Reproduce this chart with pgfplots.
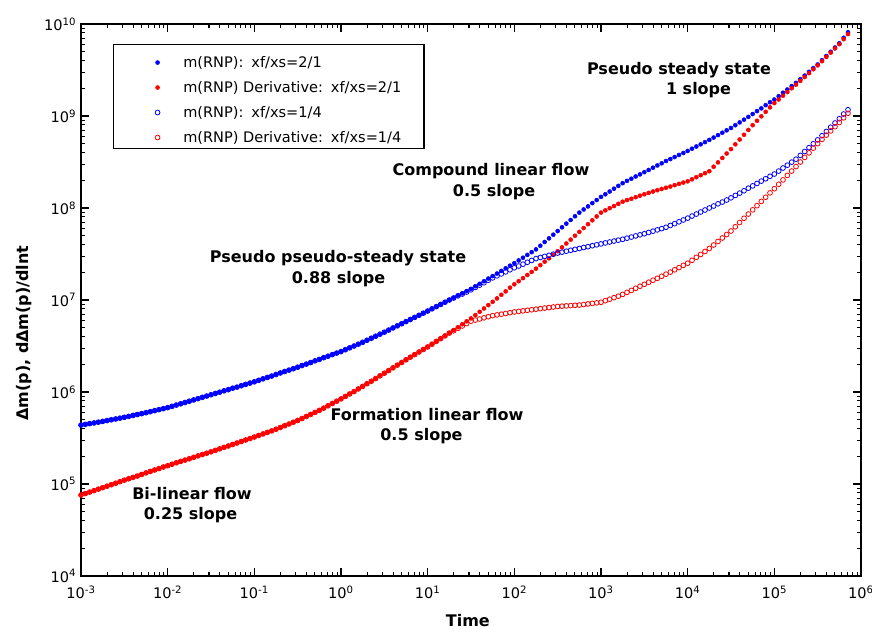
\documentclass[border=0pt]{standalone}
\usepackage{fontspec}
\setmainfont{DejaVu Sans}
\usepackage{pgfplots}
\usepackage{pgfplotstable}
\pgfplotsset{compat=1.18}

% t: time; A: m(RNP) xf/xs=2/1; B: derivative xf/xs=2/1;
% C: m(RNP) xf/xs=1/4; D: derivative xf/xs=1/4
\pgfplotstableread{
t A B C D
1.000e-3 4.37e5 7.59e4 4.37e5 7.59e4
1.122e-3 4.45e5 7.87e4 4.45e5 7.87e4
1.259e-3 4.53e5 8.17e4 4.53e5 8.17e4
1.413e-3 4.61e5 8.47e4 4.61e5 8.47e4
1.585e-3 4.70e5 8.79e4 4.70e5 8.79e4
1.778e-3 4.79e5 9.12e4 4.79e5 9.12e4
1.995e-3 4.89e5 9.46e4 4.89e5 9.46e4
2.239e-3 4.99e5 9.82e4 4.99e5 9.82e4
2.512e-3 5.09e5 1.02e5 5.09e5 1.02e5
2.818e-3 5.20e5 1.06e5 5.20e5 1.06e5
3.162e-3 5.31e5 1.10e5 5.31e5 1.10e5
3.548e-3 5.43e5 1.14e5 5.43e5 1.14e5
3.981e-3 5.56e5 1.18e5 5.56e5 1.18e5
4.467e-3 5.69e5 1.22e5 5.69e5 1.22e5
5.012e-3 5.82e5 1.27e5 5.82e5 1.27e5
5.623e-3 5.96e5 1.32e5 5.96e5 1.32e5
6.310e-3 6.11e5 1.37e5 6.11e5 1.37e5
7.079e-3 6.27e5 1.42e5 6.27e5 1.42e5
7.943e-3 6.43e5 1.47e5 6.43e5 1.47e5
8.913e-3 6.59e5 1.53e5 6.59e5 1.53e5
1.000e-2 6.76e5 1.58e5 6.76e5 1.58e5
1.122e-2 6.98e5 1.64e5 6.98e5 1.64e5
1.259e-2 7.21e5 1.70e5 7.21e5 1.70e5
1.413e-2 7.45e5 1.76e5 7.45e5 1.76e5
1.585e-2 7.69e5 1.82e5 7.69e5 1.82e5
1.778e-2 7.94e5 1.88e5 7.94e5 1.88e5
1.995e-2 8.20e5 1.95e5 8.20e5 1.95e5
2.239e-2 8.47e5 2.02e5 8.47e5 2.02e5
2.512e-2 8.75e5 2.09e5 8.75e5 2.09e5
2.818e-2 9.04e5 2.16e5 9.04e5 2.16e5
3.162e-2 9.33e5 2.24e5 9.33e5 2.24e5
3.548e-2 9.64e5 2.32e5 9.64e5 2.32e5
3.981e-2 9.95e5 2.41e5 9.95e5 2.41e5
4.467e-2 1.03e6 2.50e5 1.03e6 2.50e5
5.012e-2 1.06e6 2.59e5 1.06e6 2.59e5
5.623e-2 1.10e6 2.69e5 1.10e6 2.69e5
6.310e-2 1.13e6 2.79e5 1.13e6 2.79e5
7.079e-2 1.17e6 2.90e5 1.17e6 2.90e5
7.943e-2 1.21e6 3.01e5 1.21e6 3.01e5
8.913e-2 1.25e6 3.12e5 1.25e6 3.12e5
1.000e-1 1.29e6 3.24e5 1.29e6 3.24e5
1.122e-1 1.34e6 3.37e5 1.34e6 3.37e5
1.259e-1 1.39e6 3.50e5 1.39e6 3.50e5
1.413e-1 1.44e6 3.64e5 1.44e6 3.64e5
1.585e-1 1.49e6 3.78e5 1.49e6 3.78e5
1.778e-1 1.55e6 3.94e5 1.55e6 3.94e5
1.995e-1 1.61e6 4.11e5 1.61e6 4.11e5
2.239e-1 1.67e6 4.30e5 1.67e6 4.30e5
2.512e-1 1.73e6 4.49e5 1.73e6 4.49e5
2.818e-1 1.79e6 4.69e5 1.79e6 4.69e5
3.162e-1 1.86e6 4.90e5 1.86e6 4.90e5
3.548e-1 1.94e6 5.15e5 1.94e6 5.15e5
3.981e-1 2.01e6 5.42e5 2.01e6 5.42e5
4.467e-1 2.09e6 5.70e5 2.09e6 5.70e5
5.012e-1 2.18e6 6.00e5 2.18e6 6.00e5
5.623e-1 2.26e6 6.31e5 2.26e6 6.31e5
6.310e-1 2.36e6 6.68e5 2.36e6 6.68e5
7.079e-1 2.45e6 7.08e5 2.45e6 7.08e5
7.943e-1 2.55e6 7.50e5 2.55e6 7.50e5
8.913e-1 2.65e6 7.94e5 2.65e6 7.94e5
1.000e0 2.75e6 8.41e5 2.75e6 8.41e5
1.122e0 2.88e6 8.95e5 2.88e6 8.95e5
1.259e0 3.02e6 9.53e5 3.02e6 9.53e5
1.413e0 3.16e6 1.01e6 3.16e6 1.01e6
1.585e0 3.31e6 1.08e6 3.31e6 1.08e6
1.778e0 3.47e6 1.15e6 3.47e6 1.15e6
1.995e0 3.65e6 1.23e6 3.65e6 1.23e6
2.239e0 3.84e6 1.31e6 3.84e6 1.31e6
2.512e0 4.04e6 1.40e6 4.04e6 1.40e6
2.818e0 4.25e6 1.50e6 4.25e6 1.50e6
3.162e0 4.47e6 1.60e6 4.47e6 1.60e6
3.548e0 4.71e6 1.71e6 4.71e6 1.71e6
3.981e0 4.97e6 1.83e6 4.97e6 1.83e6
4.467e0 5.24e6 1.96e6 5.24e6 1.96e6
5.012e0 5.52e6 2.09e6 5.52e6 2.09e6
5.623e0 5.82e6 2.24e6 5.82e6 2.24e6
6.310e0 6.14e6 2.39e6 6.14e6 2.39e6
7.079e0 6.47e6 2.55e6 6.47e6 2.55e6
7.943e0 6.82e6 2.72e6 6.82e6 2.72e6
8.913e0 7.19e6 2.90e6 7.19e6 2.90e6
1.000e1 7.59e6 3.09e6 7.59e6 3.09e6
1.122e1 8.02e6 3.31e6 8.02e6 3.31e6
1.259e1 8.47e6 3.55e6 8.47e6 3.55e6
1.413e1 8.95e6 3.80e6 8.95e6 3.80e6
1.585e1 9.46e6 4.07e6 9.46e6 4.07e6
1.778e1 1.00e7 4.37e6 1.00e7 4.37e6
1.995e1 1.06e7 4.70e6 1.05e7 4.63e6
2.239e1 1.12e7 5.06e6 1.11e7 4.92e6
2.512e1 1.18e7 5.45e6 1.16e7 5.22e6
2.818e1 1.25e7 5.86e6 1.22e7 5.55e6
3.162e1 1.32e7 6.31e6 1.29e7 5.89e6
3.548e1 1.41e7 6.85e6 1.37e7 6.05e6
3.981e1 1.50e7 7.45e6 1.45e7 6.22e6
4.467e1 1.60e7 8.09e6 1.54e7 6.40e6
5.012e1 1.71e7 8.79e6 1.64e7 6.58e6
5.623e1 1.82e7 9.55e6 1.74e7 6.76e6
6.310e1 1.94e7 1.04e7 1.83e7 6.89e6
7.079e1 2.07e7 1.14e7 1.92e7 7.01e6
7.943e1 2.21e7 1.24e7 2.02e7 7.14e6
8.913e1 2.36e7 1.36e7 2.13e7 7.28e6
1.000e2 2.51e7 1.48e7 2.24e7 7.41e6
1.122e2 2.69e7 1.60e7 2.34e7 7.52e6
1.259e2 2.88e7 1.73e7 2.45e7 7.62e6
1.413e2 3.09e7 1.87e7 2.57e7 7.73e6
1.585e2 3.31e7 2.02e7 2.69e7 7.83e6
1.778e2 3.55e7 2.19e7 2.82e7 7.94e6
1.995e2 3.89e7 2.39e7 2.90e7 8.05e6
2.239e2 4.27e7 2.61e7 2.98e7 8.17e6
2.512e2 4.68e7 2.84e7 3.06e7 8.28e6
2.818e2 5.13e7 3.10e7 3.15e7 8.39e6
3.162e2 5.62e7 3.39e7 3.24e7 8.51e6
3.548e2 6.17e7 3.73e7 3.31e7 8.57e6
3.981e2 6.76e7 4.11e7 3.39e7 8.63e6
4.467e2 7.41e7 4.53e7 3.47e7 8.69e6
5.012e2 8.13e7 4.99e7 3.55e7 8.75e6
5.623e2 8.91e7 5.50e7 3.63e7 8.81e6
6.310e2 9.64e7 6.05e7 3.72e7 8.93e6
7.079e2 1.04e8 6.67e7 3.80e7 9.06e6
7.943e2 1.13e8 7.35e7 3.89e7 9.18e6
8.913e2 1.22e8 8.09e7 3.98e7 9.31e6
1.000e3 1.32e8 8.91e7 4.07e7 9.44e6
1.122e3 1.41e8 9.42e7 4.17e7 9.82e6
1.259e3 1.51e8 9.95e7 4.27e7 1.02e7
1.413e3 1.62e8 1.05e8 4.37e7 1.06e7
1.585e3 1.74e8 1.11e8 4.47e7 1.10e7
1.778e3 1.86e8 1.17e8 4.57e7 1.15e7
1.995e3 1.97e8 1.22e8 4.70e7 1.21e7
2.239e3 2.08e8 1.26e8 4.83e7 1.27e7
2.512e3 2.20e8 1.31e8 4.97e7 1.34e7
2.818e3 2.32e8 1.36e8 5.11e7 1.41e7
3.162e3 2.45e8 1.41e8 5.25e7 1.48e7
3.548e3 2.59e8 1.46e8 5.42e7 1.56e7
3.981e3 2.74e8 1.51e8 5.60e7 1.64e7
4.467e3 2.90e8 1.56e8 5.78e7 1.72e7
5.012e3 3.06e8 1.61e8 5.97e7 1.81e7
5.623e3 3.24e8 1.66e8 6.17e7 1.91e7
6.310e3 3.40e8 1.71e8 6.46e7 2.01e7
7.079e3 3.58e8 1.77e8 6.76e7 2.13e7
7.943e3 3.77e8 1.83e8 7.08e7 2.25e7
8.913e3 3.96e8 1.89e8 7.41e7 2.38e7
1.000e4 4.17e8 1.95e8 7.76e7 2.51e7
1.122e4 4.41e8 2.05e8 8.17e7 2.70e7
1.259e4 4.66e8 2.16e8 8.59e7 2.91e7
1.413e4 4.92e8 2.27e8 9.04e7 3.13e7
1.585e4 5.20e8 2.39e8 9.51e7 3.37e7
1.778e4 5.50e8 2.51e8 1.00e8 3.63e7
1.995e4 5.83e8 2.81e8 1.05e8 3.96e7
2.239e4 6.19e8 3.13e8 1.11e8 4.33e7
2.512e4 6.58e8 3.50e8 1.16e8 4.72e7
2.818e4 6.98e8 3.91e8 1.22e8 5.15e7
3.162e4 7.41e8 4.37e8 1.29e8 5.62e7
3.548e4 7.94e8 4.92e8 1.37e8 6.25e7
3.981e4 8.51e8 5.55e8 1.45e8 6.95e7
4.467e4 9.12e8 6.25e8 1.54e8 7.73e7
5.012e4 9.77e8 7.05e8 1.64e8 8.59e7
5.623e4 1.05e9 7.94e8 1.74e8 9.55e7
6.310e4 1.13e9 8.87e8 1.85e8 1.06e8
7.079e4 1.21e9 9.91e8 1.96e8 1.18e8
7.943e4 1.31e9 1.11e9 2.08e8 1.31e8
8.913e4 1.41e9 1.24e9 2.21e8 1.46e8
1.000e5 1.51e9 1.38e9 2.34e8 1.62e8
1.122e5 1.64e9 1.51e9 2.52e8 1.81e8
1.259e5 1.79e9 1.66e9 2.72e8 2.02e8
1.413e5 1.94e9 1.82e9 2.92e8 2.26e8
1.585e5 2.11e9 2.00e9 3.15e8 2.52e8
1.778e5 2.29e9 2.19e9 3.39e8 2.82e8
1.995e5 2.51e9 2.41e9 3.73e8 3.16e8
2.239e5 2.75e9 2.65e9 4.11e8 3.55e8
2.512e5 3.02e9 2.92e9 4.53e8 3.98e8
2.818e5 3.31e9 3.22e9 4.99e8 4.47e8
3.162e5 3.63e9 3.55e9 5.50e8 5.01e8
3.548e5 4.04e9 3.94e9 6.11e8 5.57e8
3.981e5 4.49e9 4.39e9 6.79e8 6.19e8
4.467e5 4.99e9 4.88e9 7.55e8 6.89e8
5.012e5 5.55e9 5.42e9 8.39e8 7.66e8
5.623e5 6.17e9 6.03e9 9.33e8 8.51e8
6.310e5 7.08e9 6.84e9 1.05e9 9.55e8
7.079e5 8.13e9 7.76e9 1.17e9 1.07e9
}\rnpdata

\newcommand{\tickfont}{\fontsize{10.9pt}{13pt}\selectfont}
\newcommand{\notefont}{\fontsize{12pt}{14pt}\selectfont\bfseries}

\begin{document}
\begin{tikzpicture}
\begin{axis}[
  name=ax,
  xmode=log, ymode=log,
  scale only axis,
  width=585pt, height=414pt,
  xmin=1e-3, xmax=1e6, ymin=1e4, ymax=1e10,
  tick align=inside,
  major tick length=6pt, minor tick length=3pt,
  axis line style={line width=1pt},
  every tick/.style={black, line width=0.8pt},
  tick label style={font=\tickfont},
  xticklabel style={yshift=-3.75pt},
  log number format basis/.code 2 args={#1\textsuperscript{\pgfmathprintnumber[assume math mode=true]{#2}}},
  xlabel={Time},
  ylabel={Δm(p), dΔm(p)/dlnt},
  label style={font=\notefont},
  xlabel style={at={(axis description cs:0.496,-0.0815)}, anchor=center},
  ylabel style={at={(axis description cs:-0.0731,0.44)}, anchor=center},
  legend cell align=left,
  legend style={
    at={(axis description cs:0.041,0.9638)}, anchor=north west,
    draw=black, line width=0.9pt, fill=white,
    font=\tickfont,
    inner xsep=15pt, inner ysep=0pt,
    row sep=-3pt, column sep=15.5pt,
    nodes={inner xsep=2pt, inner ysep=0pt, text height=17.4pt, text depth=4.35pt},
  },
  legend image code/.code={%
    \path[draw=none, fill=none] (0pt,-1pt) rectangle (1pt,1pt);
    \draw[#1] plot coordinates {(18pt,-2.6pt)};},
]
\addplot[only marks, mark=*, mark size=1.5pt, color=blue,
  mark options={solid, line width=0.4pt}] table[x=t, y=A] {\rnpdata};
\addlegendentry{m(RNP):\hspace{0.55em}xf/xs=2/1}
\addplot[only marks, mark=*, mark size=1.5pt, color=red,
  mark options={solid, line width=0.4pt}] table[x=t, y=B] {\rnpdata};
\addlegendentry{m(RNP) Derivative:\hspace{0.55em}xf/xs=2/1}
\addplot[only marks, mark=o, mark size=1.8pt, color=blue,
  mark options={solid, line width=0.6pt}] table[x=t, y=C] {\rnpdata};
\addlegendentry{m(RNP):\hspace{0.55em}xf/xs=1/4}
\addplot[only marks, mark=o, mark size=1.8pt, color=red,
  mark options={solid, line width=0.6pt}] table[x=t, y=D] {\rnpdata};
\addlegendentry{m(RNP) Derivative:\hspace{0.55em}xf/xs=1/4}

% flow-regime notes
\node[font=\notefont] at (rel axis cs:0.7667,0.9167) {Pseudo steady state};
\node[font=\notefont] at (rel axis cs:0.7917,0.8804) {1 slope};
\node[font=\notefont] at (rel axis cs:0.5256,0.7337) {Compound linear flow};
\node[font=\notefont] at (rel axis cs:0.5295,0.6957) {0.5 slope};
\node[font=\notefont] at (rel axis cs:0.3295,0.5761) {Pseudo pseudo-steady state};
\node[font=\notefont] at (rel axis cs:0.3301,0.5380) {0.88 slope};
\node[font=\notefont] at (rel axis cs:0.4436,0.2917) {Formation linear flow};
\node[font=\notefont] at (rel axis cs:0.4365,0.2536) {0.5 slope};
\node[font=\notefont] at (rel axis cs:0.1423,0.1486) {Bi-linear flow};
\node[font=\notefont] at (rel axis cs:0.1404,0.1105) {0.25 slope};
\end{axis}
\pgfresetboundingbox
\path[use as bounding box] ([xshift=-60.75pt,yshift=-41.25pt]ax.south west)
  rectangle ([xshift=8.25pt,yshift=18pt]ax.north east);
\end{tikzpicture}
\end{document}
